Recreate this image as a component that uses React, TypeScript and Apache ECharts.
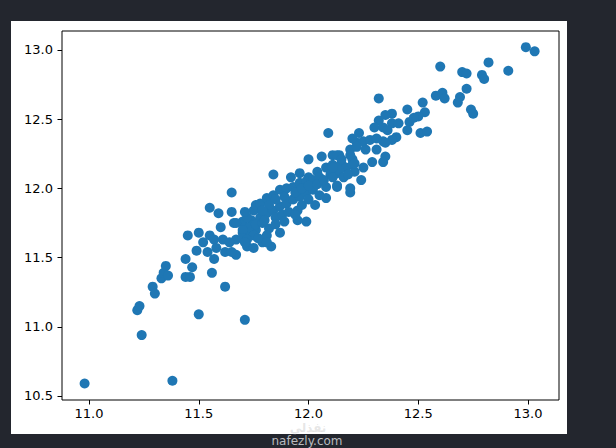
import { useEffect, useRef } from "react"
import * as echarts from "echarts"

const xTicks = [11.0, 11.5, 12.0, 12.5, 13.0]
const yTicks = [10.5, 11.0, 11.5, 12.0, 12.5, 13.0]
const xRange = [10.877, 13.141]
const yRange = [10.471, 13.137]

// lower left tail
const lowerPoints: [number, number][] = [
  [10.98, 10.59], [11.38, 10.61], [11.71, 11.05], [11.50, 11.09], [11.24, 10.94],
  [11.22, 11.12], [11.23, 11.15], [11.29, 11.29], [11.30, 11.24], [11.33, 11.35],
  [11.34, 11.39], [11.35, 11.44], [11.36, 11.37], [11.44, 11.36], [11.46, 11.36],
  [11.47, 11.43], [11.44, 11.49], [11.56, 11.39], [11.62, 11.29], [11.57, 11.49],
  [11.49, 11.55], [11.54, 11.54], [11.45, 11.66], [11.50, 11.68], [11.55, 11.66],
  [11.52, 11.61], [11.57, 11.63], [11.61, 11.63], [11.58, 11.57], [11.62, 11.54],
  [11.60, 11.72], [11.55, 11.86], [11.59, 11.82], [11.65, 11.83], [11.65, 11.97],
  [11.66, 11.75], [11.70, 11.76], [11.74, 11.77], [11.75, 11.84], [11.76, 11.88],
  [11.67, 11.63], [11.67, 11.52], [11.72, 11.58], [11.75, 11.57], [11.70, 11.68],
  [11.73, 11.68], [11.76, 11.70], [11.64, 11.61], [11.65, 11.54],
]

// dense middle band
const middlePoints: [number, number][] = [
  [12.00, 12.21], [12.06, 12.23], [12.11, 12.24], [12.14, 12.24], [12.19, 12.28],
  [12.22, 12.33], [11.84, 12.10], [11.92, 12.08], [11.96, 12.11], [12.00, 12.08],
  [12.04, 12.12], [12.08, 12.15], [12.11, 12.17], [12.15, 12.18], [12.20, 12.21],
  [12.24, 12.06], [12.19, 11.97], [12.13, 12.01], [12.08, 11.93], [12.08, 12.01],
  [12.03, 11.88], [11.99, 11.76], [11.95, 11.77], [11.82, 11.71], [11.79, 11.61],
  [11.83, 11.58], [11.72, 11.79], [11.78, 11.89], [11.81, 11.93], [11.84, 11.95],
  [11.87, 11.99], [11.90, 12.00], [11.93, 12.01], [11.96, 12.04], [11.99, 12.05],
  [12.02, 12.06], [12.05, 12.08], [12.10, 12.10], [12.13, 12.11], [12.17, 12.15],
  [12.20, 12.17], [11.78, 11.79], [11.81, 11.82], [11.84, 11.84], [11.87, 11.87],
  [11.90, 11.89], [11.93, 11.92], [11.96, 11.94], [11.99, 11.97], [12.02, 11.99],
  [11.73, 11.72], [11.76, 11.74], [11.79, 11.75], [11.85, 11.79], [11.88, 11.81],
  [11.91, 11.83], [11.95, 11.84], [11.70, 11.70], [11.67, 11.75], [11.75, 11.66],
  [11.70, 11.64], [11.82, 11.88], [11.85, 11.92], [11.89, 11.94], [11.94, 11.97],
  [11.97, 12.00], [12.00, 12.02], [12.04, 12.03], [12.07, 12.06], [12.11, 12.08],
  [12.14, 12.13], [12.16, 12.08], [12.21, 12.12], [11.79, 11.84], [11.80, 11.77],
  [11.85, 11.74], [11.89, 11.76], [11.94, 11.81], [11.97, 11.88], [12.00, 11.92],
  [12.05, 11.95], [11.71, 11.83], [11.72, 11.63], [11.77, 11.64], [11.81, 11.66],
  [11.87, 11.68], [11.81, 11.61], [11.71, 11.61], [12.13, 12.02],
]

// upper part of the band
const upperPoints: [number, number][] = [
  [12.32, 12.65], [12.52, 12.62], [12.53, 12.55], [12.50, 12.52], [12.45, 12.57],
  [12.38, 12.54], [12.35, 12.53], [12.32, 12.49], [12.30, 12.44], [12.34, 12.44],
  [12.38, 12.47], [12.41, 12.47], [12.46, 12.48], [12.48, 12.51], [12.45, 12.42],
  [12.51, 12.40], [12.54, 12.41], [12.40, 12.37], [12.36, 12.42], [12.23, 12.40],
  [12.20, 12.36], [12.25, 12.34], [12.28, 12.35], [12.31, 12.36], [12.34, 12.34],
  [12.38, 12.35], [12.22, 12.30], [12.26, 12.28], [12.31, 12.28], [12.35, 12.23],
  [12.34, 12.19], [12.29, 12.19], [12.25, 12.15], [12.19, 12.00], [12.09, 12.40],
  [12.13, 12.24], [12.15, 12.21], [12.19, 12.24], [12.18, 12.10], [12.11, 12.15],
  [12.21, 12.18], [12.35, 12.33],
  [12.99, 13.02], [13.03, 12.99], [12.91, 12.85], [12.82, 12.91], [12.79, 12.82],
  [12.80, 12.79], [12.70, 12.84], [12.72, 12.83], [12.60, 12.88], [12.72, 12.72],
  [12.69, 12.66], [12.68, 12.62], [12.74, 12.57], [12.75, 12.54], [12.58, 12.67],
  [12.61, 12.69], [12.62, 12.65],
]

const fmt = (v: number) => v.toFixed(1)

export default function App() {
  const chartRef = useRef<HTMLDivElement>(null)

  useEffect(() => {
    if (!chartRef.current) return
    const chart = echarts.init(chartRef.current, null, { renderer: "svg" })

    const tickLabel = {
      color: "#000",
      fontSize: 13,
      fontFamily: "DejaVu Sans",
      formatter: fmt,
    }

    chart.setOption({
      animation: false,
      backgroundColor: "#23262e",
      graphic: [
        {
          type: "rect",
          z: -10,
          shape: { x: 11, y: 21, width: 556, height: 413 },
          style: { fill: "#fff" },
        },
        // faint site watermark, kept just under the tick labels
        {
          type: "text",
          z: 100,
          x: 308,
          y: 428,
          style: {
            text: "نفذلي",
            fill: "rgba(170,170,170,0.3)",
            font: "bold 12px DejaVu Sans",
            align: "center",
            verticalAlign: "middle",
          },
        },
        {
          type: "text",
          z: 100,
          x: 307,
          y: 441,
          style: {
            text: "nafezly.com",
            fill: "#b8babe",
            font: "12px DejaVu Sans",
            align: "center",
            verticalAlign: "middle",
          },
        },
      ],
      grid: {
        left: 62,
        top: 31,
        right: 57,
        bottom: 48,
        show: true,
        borderColor: "#000",
        borderWidth: 1,
        backgroundColor: "transparent",
      },
      xAxis: {
        type: "value",
        min: xRange[0],
        max: xRange[1],
        axisLine: { show: false },
        axisTick: { show: true, length: 4.5, lineStyle: { color: "#000" }, customValues: xTicks },
        axisLabel: { ...tickLabel, margin: 7, customValues: xTicks },
        splitLine: { show: false },
      },
      yAxis: {
        type: "value",
        min: yRange[0],
        max: yRange[1],
        axisLine: { show: false },
        axisTick: { show: true, length: 4.5, lineStyle: { color: "#000" }, customValues: yTicks },
        axisLabel: { ...tickLabel, margin: 9, customValues: yTicks },
        splitLine: { show: false },
      },
      series: [
        {
          type: "scatter",
          symbolSize: 10,
          itemStyle: { color: "#1f77b4", opacity: 1 },
          data: [...lowerPoints, ...middlePoints, ...upperPoints],
        },
      ],
    })

    return () => {
      chart.dispose()
    }
  }, [])

  return (
    <div
      ref={chartRef}
      style={{ position: "absolute", left: 0, top: 0, width: 616, height: 448 }}
    />
  )
}
